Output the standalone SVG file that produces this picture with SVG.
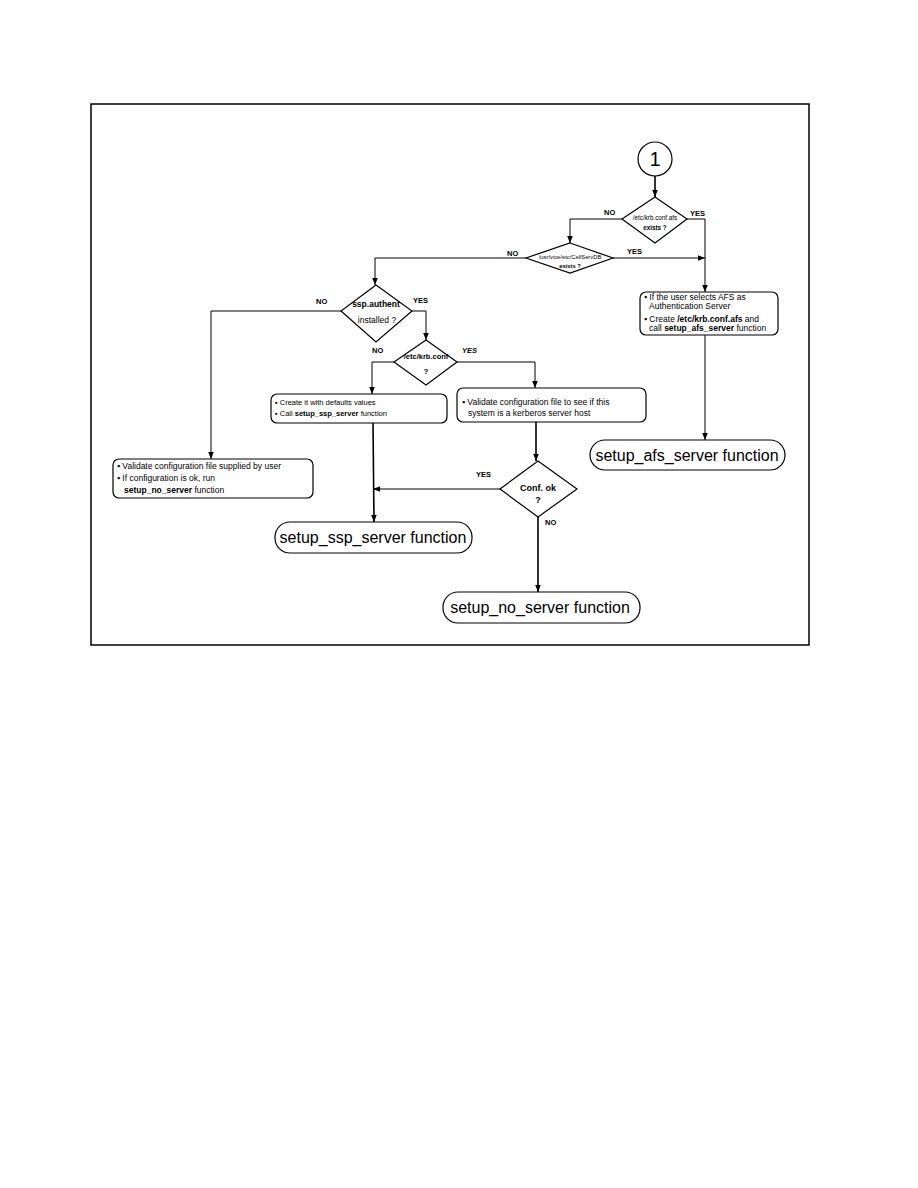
<svg xmlns="http://www.w3.org/2000/svg" width="918" height="1188" viewBox="0 0 918 1188">
<style>
.l{fill:none;stroke:#000;stroke-width:1}
.t{stroke-width:1.6}
.s{fill:#fff;stroke:#000;stroke-width:1.2}
.lb{font-family:"Liberation Sans",Arial,sans-serif;font-size:7.5px;font-weight:bold;fill:#000}
.bx{font-family:"Liberation Sans",Arial,sans-serif;font-size:8.5px;fill:#000}
.dt{font-family:"Liberation Sans",Arial,sans-serif;fill:#000;text-anchor:middle}
.tm{font-family:"Liberation Sans",Arial,sans-serif;font-size:16px;fill:#000;text-anchor:middle}
</style>
<defs>
<marker id="a" viewBox="0 0 10 10" refX="10" refY="5" markerWidth="7" markerHeight="7" markerUnits="userSpaceOnUse" orient="auto">
<path d="M0,1 L10,5 L0,9 z" fill="#000"/>
</marker>
</defs>
<rect x="91" y="104" width="718" height="541" fill="none" stroke="#000" stroke-width="1.5"/>

<g id="connectors">
<path class="l t" d="M655,176 V197" marker-end="url(#a)"/>
<path class="l" d="M622,219 H570 V243" marker-end="url(#a)"/>
<path class="l" d="M687,219 H705 V292" marker-end="url(#a)"/>
<path class="l" d="M613,258 H705" marker-end="url(#a)"/>
<path class="l" d="M526,258 H375 V285" marker-end="url(#a)"/>
<path class="l" d="M341,311 H211 V459" marker-end="url(#a)"/>
<path class="l" d="M412,311 H426 V340" marker-end="url(#a)"/>
<path class="l" d="M394,362 H372 V394" marker-end="url(#a)"/>
<path class="l" d="M457,362 H535 V388" marker-end="url(#a)"/>
<path class="l t" d="M536,422 V461" marker-end="url(#a)"/>
<path class="l" d="M500,489 H373" marker-end="url(#a)"/>
<path class="l t" d="M373,423 L374,522" marker-end="url(#a)"/>
<path class="l t" d="M538,517 V592" marker-end="url(#a)"/>
<path class="l" d="M705,335 V440" marker-end="url(#a)"/>
<text class="lb" x="604" y="215">NO</text>
<text class="lb" x="690" y="216">YES</text>
<text class="lb" x="507" y="256">NO</text>
<text class="lb" x="627" y="254">YES</text>
<text class="lb" x="316" y="304">NO</text>
<text class="lb" x="413" y="303">YES</text>
<text class="lb" x="372" y="353">NO</text>
<text class="lb" x="462" y="353" font-style="italic">YES</text>
<text class="lb" x="476" y="477">YES</text>
<text class="lb" x="545" y="525">NO</text>
</g>

<g id="start">
<circle cx="655" cy="159" r="17" class="s"/>
<text x="655" y="166" font-family="Liberation Sans,Arial,sans-serif" font-size="20" text-anchor="middle">1</text>
</g>

<g id="d_afs">
<polygon class="s" points="655,197 687,219 655,243 622,219"/>
<text class="dt" x="655" y="220" style="font-size:6.3px">/etc/krb.conf.afs</text>
<text class="dt" x="655" y="230" style="font-size:6.3px;font-weight:bold">exists ?</text>
</g>

<g id="d_cell">
<polygon class="s" points="570,243 613,258 570,273 526,258"/>
<text class="dt" x="570" y="259" style="font-size:5.8px">/usr/vice/etc/CellServDB</text>
<text class="dt" x="570" y="268" style="font-size:5.8px;font-weight:bold">exists ?</text>
</g>

<g id="d_ssp">
<polygon class="s" points="376,285 412,311 376,342 341,311"/>
<text class="dt" x="376" y="307" style="font-size:8.5px;font-weight:bold">ssp.authent</text>
<text class="dt" x="377" y="323" style="font-size:8.5px">installed ?</text>
</g>

<g id="d_krb">
<polygon class="s" points="426,340 457,362 426,385 394,362"/>
<text class="dt" x="426" y="359" style="font-size:7.5px;font-weight:bold">/etc/krb.conf</text>
<text class="dt" x="426" y="374" style="font-size:8px;font-weight:bold">?</text>
</g>

<g id="d_conf">
<polygon class="s" points="538,461 577,489 538,517 500,489"/>
<text class="dt" x="538" y="491" style="font-size:9px;font-weight:bold">Conf. ok</text>
<text class="dt" x="538" y="503" style="font-size:9px;font-weight:bold">?</text>
</g>

<g id="box_afs">
<rect class="s" x="640" y="292" width="138" height="43" rx="6"/>
<text class="bx" x="644" y="300">▪ If the user selects AFS as</text>
<text class="bx" x="649" y="309">Authentication Server</text>
<text class="bx" x="644" y="322">▪ Create <tspan font-weight="bold">/etc/krb.conf.afs</tspan> and</text>
<text class="bx" x="649" y="331">call <tspan font-weight="bold">setup_afs_server</tspan> function</text>
</g>

<g id="box_create">
<rect class="s" x="271" y="394" width="176" height="29" rx="6"/>
<text class="bx" x="275" y="405" style="font-size:7.5px">▪ Create it with defaults values</text>
<text class="bx" x="275" y="416" style="font-size:7.5px">▪ Call <tspan font-weight="bold">setup_ssp_server</tspan> function</text>
</g>

<g id="box_validate">
<rect class="s" x="457" y="388" width="189" height="34" rx="6"/>
<text class="bx" x="462" y="405">▪ Validate configuration file to see if this</text>
<text class="bx" x="468" y="416">system is a kerberos server host</text>
</g>

<g id="box_user">
<rect class="s" x="113" y="459" width="200" height="39" rx="6"/>
<text class="bx" x="117" y="469">▪ Validate configuration file supplied by user</text>
<text class="bx" x="117" y="481">▪ If configuration is ok, run</text>
<text class="bx" x="124" y="493"><tspan font-weight="bold">setup_no_server</tspan> function</text>
</g>

<g id="t_afs">
<rect class="s" x="590" y="440" width="195" height="30" rx="15"/>
<text class="tm" x="687" y="461">setup_afs_server function</text>
</g>

<g id="t_ssp">
<rect class="s" x="275" y="522" width="197" height="31" rx="15"/>
<text class="tm" x="373" y="543">setup_ssp_server function</text>
</g>

<g id="t_no">
<rect class="s" x="443" y="592" width="197" height="31" rx="15"/>
<text class="tm" x="540" y="613">setup_no_server function</text>
</g>
</svg>
